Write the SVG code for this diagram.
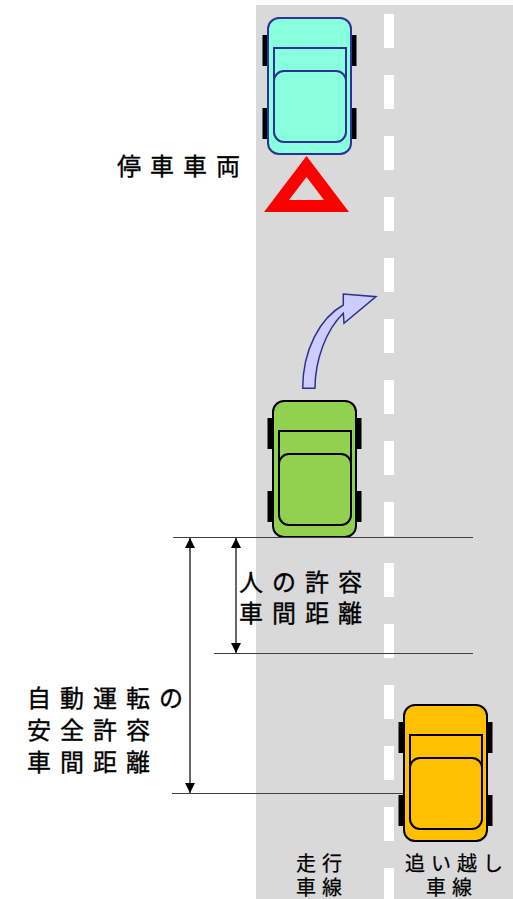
<svg xmlns="http://www.w3.org/2000/svg" xmlns:xlink="http://www.w3.org/1999/xlink" width="513" height="899" viewBox="0 0 513 899">
  <style>
    .road { fill: #d9d9d9; }
    .dash { fill: #ffffff; }
    .lbl { font-family: "Noto Sans CJK JP", "Noto Sans", sans-serif; font-size: 24px; letter-spacing: 9px; fill: #000000; stroke: #000000; stroke-width: 0.35px; }
    .lane { font-family: "Noto Sans CJK JP", "Noto Sans", sans-serif; font-size: 20px; letter-spacing: 6px; fill: #000000; stroke: #000000; stroke-width: 0.25px; }
    .guide { stroke: #404040; stroke-width: 1; fill: none; }
    .dim { stroke: #000000; stroke-width: 1.2; fill: none; }
    .car { stroke-width: 2; }
  </style>
  <defs>
    <!-- top view of a car, origin at the body's top-left corner -->
    <symbol id="car" overflow="visible">
      <rect x="-5.5" y="17" width="6" height="31" fill="#000000" stroke="none"/>
      <rect x="-5.5" y="90" width="6" height="31" fill="#000000" stroke="none"/>
      <rect x="82.5" y="17" width="6" height="31" fill="#000000" stroke="none"/>
      <rect x="82.5" y="90" width="6" height="31" fill="#000000" stroke="none"/>
      <rect x="0" y="0" width="83" height="136" rx="11" fill="currentColor"/>
      <path d="M6,63 V30 H78 V63" fill="none"/>
      <rect x="6" y="53" width="72" height="71" rx="10" fill="currentColor"/>
    </symbol>
    <marker id="ah" viewBox="0 0 10 10" refX="10" refY="5" markerWidth="10" markerHeight="10" markerUnits="userSpaceOnUse" orient="auto-start-reverse">
      <path d="M0,0 L10,5 L0,10 Z" fill="#000000"/>
    </marker>
  </defs>

  <!-- road surface and centre lane markings -->
  <g id="road">
    <rect class="road" x="256" y="5" width="257" height="894"/>
    <g class="dash">
      <rect x="384" y="14" width="10" height="34"/>
      <rect x="384" y="75" width="10" height="34"/>
      <rect x="384" y="136" width="10" height="34"/>
      <rect x="384" y="197" width="10" height="34"/>
      <rect x="384" y="258" width="10" height="34"/>
      <rect x="384" y="319" width="10" height="34"/>
      <rect x="384" y="380" width="10" height="34"/>
      <rect x="384" y="441" width="10" height="34"/>
      <rect x="384" y="502" width="10" height="34"/>
      <rect x="384" y="563" width="10" height="34"/>
      <rect x="384" y="624" width="10" height="34"/>
      <rect x="384" y="685" width="10" height="34"/>
      <rect x="384" y="746" width="10" height="34"/>
      <rect x="384" y="807" width="10" height="34"/>
      <rect x="384" y="868" width="10" height="31"/>
    </g>
  </g>

  <!-- stopped vehicle with warning triangle -->
  <g id="stopped-car">
    <use xlink:href="#car" href="#car" x="268" y="18" class="car" style="color:#88ffdd; stroke:#2e3192"/>
  </g>
  <g id="warning-triangle">
    <path d="M306.5,156 L349,212 L264,212 Z M306.5,177 L289,200 L324,200 Z" fill="#ff0000" fill-rule="evenodd"/>
  </g>
  <g id="label-stopped">
    <text class="lbl" x="117" y="175">停車車両</text>
  </g>

  <!-- lane change arrow -->
  <g id="lane-change-arrow">
    <path d="M302.7,388.3 L315,388.3 C315,360 326,330 343.3,313.3 L344,323.3 L376,296.7 L343.3,294 L343.3,305 C320,318 302.7,350 302.7,388.3 Z" fill="#ccccff" stroke="#2e3192" stroke-width="1.5" stroke-linejoin="miter"/>
  </g>

  <!-- following vehicle -->
  <g id="own-car">
    <use xlink:href="#car" href="#car" x="273" y="401" class="car" style="color:#92d050; stroke:#000000"/>
  </g>

  <!-- vehicle in the passing lane -->
  <g id="passing-car">
    <use xlink:href="#car" href="#car" x="404" y="705" class="car" style="color:#ffc000; stroke:#000000"/>
  </g>

  <!-- distance guides and dimension arrows -->
  <g id="connectors">
    <line class="guide" x1="173" y1="537.5" x2="473" y2="537.5"/>
    <line class="guide" x1="214" y1="653.5" x2="473" y2="653.5"/>
    <line class="guide" x1="172" y1="793.5" x2="403" y2="793.5"/>
    <line class="dim" x1="236" y1="538" x2="236" y2="653" marker-start="url(#ah)" marker-end="url(#ah)"/>
    <line class="dim" x1="190" y1="538" x2="190" y2="793" marker-start="url(#ah)" marker-end="url(#ah)"/>
  </g>

  <g id="label-human">
    <text class="lbl" x="239" y="591">人の許容</text>
    <text class="lbl" x="239" y="622">車間距離</text>
  </g>
  <g id="label-auto">
    <text class="lbl" x="27" y="707">自動運転の</text>
    <text class="lbl" x="27" y="739">安全許容</text>
    <text class="lbl" x="27" y="771">車間距離</text>
  </g>

  <g id="label-lanes">
    <text class="lane" x="296" y="871">走行</text>
    <text class="lane" x="296" y="895">車線</text>
    <text class="lane" x="405" y="871">追い越し</text>
    <text class="lane" x="426" y="895">車線</text>
  </g>
</svg>
